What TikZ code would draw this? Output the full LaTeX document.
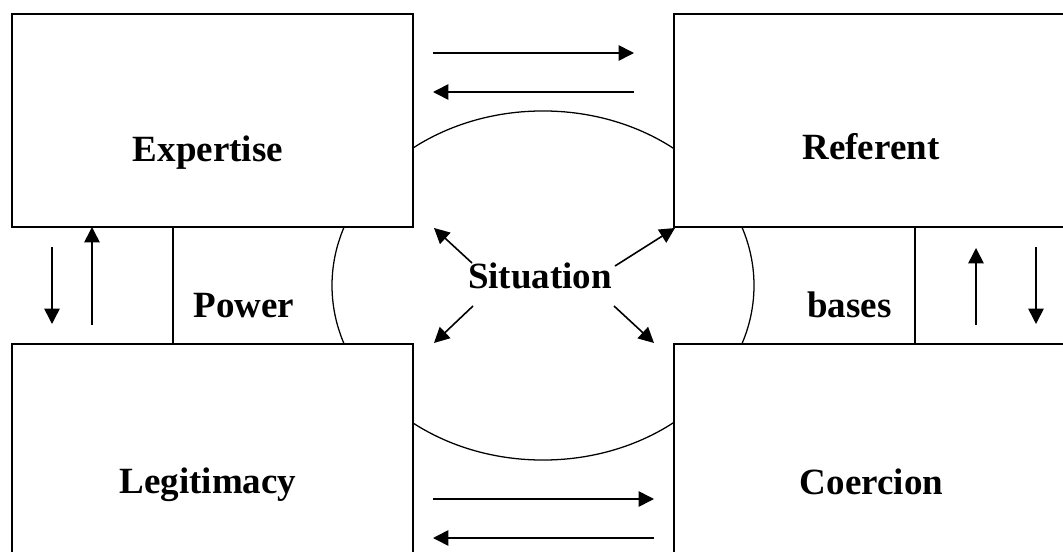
\documentclass[tikz,border=0pt]{standalone}
\usepackage{fontspec}
\setmainfont{Liberation Serif}
\usetikzlibrary{arrows.meta,fit}
\begin{document}
\begin{tikzpicture}[x=0.75pt,y=-0.75pt,
  boxst/.style={draw,line width=1.1pt,fill=white,inner sep=0pt},
  lbl/.style={font=\fontsize{27.75}{32}\selectfont\bfseries,anchor=base,inner sep=0pt},
  arr/.style={line width=1.2pt,-{Triangle[length=11.5pt,width=11.5pt]}},
  divider/.style={line width=1.1pt},
  ring/.style={line width=0.95pt}]
\useasboundingbox (0,0) rectangle (1063,552);
\clip (0,0) rectangle (1063,552);
% central ellipse (behind boxes)
\coordinate (ctr) at (543,285.5);
\draw[ring] (ctr) ellipse [x radius=158.25pt, y radius=130.9pt];
% boxes
\node[boxst,fit={(12,14)(413,227)}] (expbox) {};
\node[boxst,fit={(674,14)(1080,227)}] (refbox) {};
\node[boxst,fit={(12,344)(413,570)}] (legbox) {};
\node[boxst,fit={(674,344)(1080,570)}] (coebox) {};
% dividers of the middle strip
\draw[divider] (173,227) -- (173,344);
\draw[divider] (915,227) -- (915,344);
% labels
\node[lbl] (expertise) at (208,162) {Expertise};
\node[lbl] (referent) at (871,160) {Referent};
\node[lbl] (legit) at (208,493) {Legitimacy};
\node[lbl] (coercion) at (871.5,494) {Coercion};
\node[lbl] (situation) at (540,288) {Situation};
\node[lbl] (power) at (244,317) {Power};
\node[lbl] (bases) at (849.5,317) {bases};
% arrow end points
\coordinate (ta1) at (433,53);  \coordinate (tb1) at (634,53);
\coordinate (ta2) at (433,92);  \coordinate (tb2) at (634,92);
\coordinate (ba1) at (433,499); \coordinate (bb1) at (654,499);
\coordinate (ba2) at (433,538); \coordinate (bb2) at (654,538);
\coordinate (la1) at (52,247);  \coordinate (lb1) at (52,324);
\coordinate (la2) at (92,325);  \coordinate (lb2) at (92,227);
\coordinate (ra1) at (976,325); \coordinate (rb1) at (976,248);
\coordinate (ra2) at (1036,247);\coordinate (rb2) at (1036,324);
\coordinate (d1a) at (472,263); \coordinate (d1b) at (434,228);
\coordinate (d2a) at (615,266); \coordinate (d2b) at (675,228);
\coordinate (d3a) at (473,306); \coordinate (d3b) at (434,343);
\coordinate (d4a) at (614,306); \coordinate (d4b) at (654,343);
% arrows
\draw[arr] (ta1) -- (tb1);
\draw[arr] (tb2) -- (ta2);
\draw[arr] (ba1) -- (bb1);
\draw[arr] (bb2) -- (ba2);
\draw[arr] (la1) -- (lb1);
\draw[arr] (la2) -- (lb2);
\draw[arr] (ra1) -- (rb1);
\draw[arr] (ra2) -- (rb2);
\draw[arr] (d1a) -- (d1b);
\draw[arr] (d2a) -- (d2b);
\draw[arr] (d3a) -- (d3b);
\draw[arr] (d4a) -- (d4b);
\end{tikzpicture}
\end{document}
